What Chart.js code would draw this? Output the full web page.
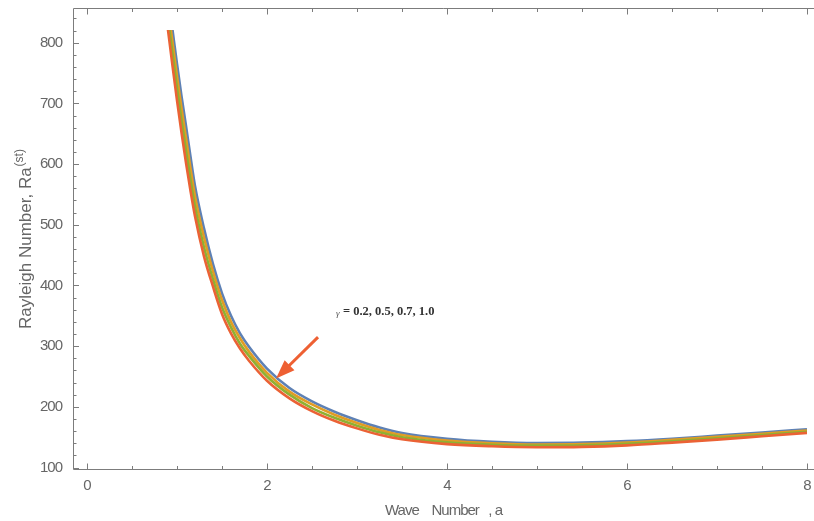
<!DOCTYPE html>
<html><head><meta charset="utf-8">
<script src="https://cdn.jsdelivr.net/npm/chart.js@4.4.0/dist/chart.umd.min.js"></script>
<style>html,body{margin:0;padding:0;background:#fff;overflow:hidden;}#wrap{width:814px;height:521px;position:relative;}</style>
</head><body><div id="wrap"><canvas id="c"></canvas></div>
<script>
// Wave number a (x values)
const waveNumberA = [0.85, 0.9, 0.95, 1.0, 1.05, 1.1, 1.15, 1.2, 1.3, 1.4, 1.5, 1.6, 1.7, 1.8, 2.0, 2.25, 2.5, 2.75, 3.0, 3.25, 3.5, 4.0, 4.5, 5.0, 5.5, 6.0, 6.5, 7.0, 7.5, 8.0];
// Rayleigh number Ra^(st) for each gamma
const raGamma02 = [930, 875, 821, 765, 712, 663, 612, 564, 494, 435, 387, 350, 321, 299, 263, 231, 209, 192, 178, 166, 157, 147.5, 142.5, 140.5, 141, 143.5, 147.5, 152.5, 157.5, 163];
const raGamma05 = [913, 857, 801, 745, 692, 643, 593, 547, 479, 423, 376, 340, 313, 291, 256, 225, 204, 187, 173.5, 162, 153.5, 144.5, 140, 138, 138.5, 141, 145.5, 150.5, 155.5, 161];
const raGamma07 = [897, 839, 782, 725, 672, 622, 574, 530, 463, 410, 364, 331, 304, 284, 250, 220, 198, 182, 169, 158, 150, 141.5, 137.5, 136, 136.5, 139, 143, 148, 153.5, 159];
const raGamma10 = [880, 821, 762, 705, 652, 602, 556, 514, 448, 398, 353, 321, 296, 276, 243, 214, 193, 177, 164.5, 154, 146.5, 138.5, 135, 133.5, 134, 136.5, 141, 146, 151.5, 157];
const seriesLabels = ['γ = 0.2', 'γ = 0.5', 'γ = 0.7', 'γ = 1.0'];
// Ticks
const xTickValues = [0, 2, 4, 6, 8];
const yTickValues = [100, 200, 300, 400, 500, 600, 700, 800];
const xMinorTicks = [0.5, 1, 1.5, 2.5, 3, 3.5, 4.5, 5, 5.5, 6.5, 7, 7.5];
const yMinorTicks = [120, 140, 160, 180, 220, 240, 260, 280, 320, 340, 360, 380, 420, 440, 460, 480, 520, 540, 560, 580, 620, 640, 660, 680, 720, 740, 760, 780, 820, 840];
// Texts
const annotationText = '= 0.2, 0.5, 0.7, 1.0';
const yTitleMain = 'Rayleigh Number, Ra';
const yTitleSup = '(st)';
const xTitle = 'Wave    Number   , a';

const TXT = '#666666';
const FRAME = '#7c7c7c';
const FONT = "'Liberation Sans', 'DejaVu Sans', sans-serif";

function pts(vals){ return waveNumberA.map((a,i)=>({x:a, y:vals[i]})); }
const colors = ['#5E81B5', '#E19C24', '#8FB032', '#EB6235'];
const seriesVals = [raGamma02, raGamma05, raGamma07, raGamma10];
const datasets = seriesVals.map((v,i)=>({
  label: seriesLabels[i],
  data: pts(v),
  borderColor: colors[i],
  borderWidth: 2.6,
  pointRadius: 0,
  fill: false,
  cubicInterpolationMode: 'monotone',
  order: 4 - i,
  clip: {left: 3, top: -22, right: 3, bottom: 3}
}));

const framePlugin = {
  id: 'frame',
  beforeDraw(chart){ chart.ctx.letterSpacing = '-1px'; },
  beforeDatasetsDraw(chart){
    const {ctx, chartArea:{left,right,top,bottom}, scales:{x,y}} = chart;
    ctx.save();
    ctx.letterSpacing = '0px';
    ctx.strokeStyle = FRAME; ctx.lineWidth = 1;
    ctx.beginPath();
    ctx.moveTo(right, top+0.5); ctx.lineTo(left+0.5, top+0.5); ctx.lineTo(left+0.5, bottom-0.5); ctx.lineTo(right, bottom-0.5);
    ctx.stroke();
    ctx.beginPath();
    const xt = (v, len) => { const p = Math.round(x.getPixelForValue(v)) + 0.5; ctx.moveTo(p, bottom); ctx.lineTo(p, bottom - len); ctx.moveTo(p, top); ctx.lineTo(p, top + len); };
    const yt = (v, len) => { const p = Math.round(y.getPixelForValue(v)) + 0.5; if (p < top || p > bottom) return; ctx.moveTo(left, p); ctx.lineTo(left + len, p); };
    xTickValues.forEach(v => xt(v, 6.5));
    xMinorTicks.forEach(v => xt(v, 4));
    yTickValues.forEach(v => yt(v, 6));
    yMinorTicks.forEach(v => yt(v, 3.5));
    ctx.stroke();
    // y-axis title with superscript
    ctx.fillStyle = TXT;
    ctx.font = '17px ' + FONT; const w1 = ctx.measureText(yTitleMain).width;
    ctx.font = '12px ' + FONT; const w2 = ctx.measureText(yTitleSup).width;
    const total = w1 + 1 + w2;
    ctx.translate(30.5, (top + bottom) / 2);
    ctx.rotate(-Math.PI / 2);
    ctx.textBaseline = 'alphabetic'; ctx.textAlign = 'left';
    ctx.font = '17px ' + FONT; ctx.fillText(yTitleMain, -total / 2, 0);
    ctx.font = '12px ' + FONT; ctx.fillText(yTitleSup, -total / 2 + w1 + 1, -7.5);
    ctx.restore();
  },
  afterDatasetsDraw(chart){
    const {ctx, scales:{x,y}} = chart;
    ctx.save();
    ctx.letterSpacing = '0px';
    // arrow
    const x0 = x.getPixelForValue(2.567), y0 = y.getPixelForValue(314.8);
    const x1 = x.getPixelForValue(2.1), y1 = y.getPixelForValue(246.7);
    const ang = Math.atan2(y1 - y0, x1 - x0);
    const hl = 19, hw = 7;
    const bx = x1 - hl*Math.cos(ang), by = y1 - hl*Math.sin(ang);
    ctx.strokeStyle = '#EE6033'; ctx.fillStyle = '#EE6033'; ctx.lineWidth = 3;
    ctx.beginPath(); ctx.moveTo(x0, y0); ctx.lineTo(bx + 4*Math.cos(ang), by + 4*Math.sin(ang)); ctx.stroke();
    ctx.beginPath();
    ctx.moveTo(x1, y1);
    ctx.lineTo(bx + hw*Math.sin(ang), by - hw*Math.cos(ang));
    ctx.lineTo(bx - hw*Math.sin(ang), by + hw*Math.cos(ang));
    ctx.closePath(); ctx.fill();
    // annotation label
    const tx = x.getPixelForValue(2.844), ty = y.getPixelForValue(351);
    const gx = x.getPixelForValue(2.767);
    ctx.textBaseline = 'alphabetic'; ctx.textAlign = 'left';
    ctx.fillStyle = '#555';
    ctx.font = "italic 9px 'Liberation Serif', 'DejaVu Serif', serif";
    ctx.fillText('γ', gx, ty + 1);
    ctx.fillStyle = '#333';
    ctx.font = "bold 12.5px 'Liberation Serif', 'DejaVu Serif', serif";
    ctx.fillText(annotationText, tx, ty);
    ctx.restore();
  }
};

new Chart(document.getElementById('c'), {
  type: 'line',
  data: { datasets },
  options: {
    responsive: true, maintainAspectRatio: false, animation: false, devicePixelRatio: 1,
    layout: { padding: { top: 8, right: 0, left: 0, bottom: 0 } },
    plugins: { legend: { display: false }, tooltip: { enabled: false } },
    scales: {
      x: {
        type: 'linear', min: -0.1556, max: 8.078,
        grid: { display: false, drawTicks: false }, border: { display: false },
        ticks: { padding: 7, autoSkip: false, color: TXT, font: { family: FONT, size: 15 }, callback: v => String(v) },
        afterBuildTicks: s => { s.ticks = xTickValues.map(v => ({ value: v })); },
        afterFit: s => { s.height = 51; s.paddingLeft = 0; s.paddingRight = 0; },
        title: { display: true, text: xTitle, color: TXT, font: { family: FONT, size: 15 }, padding: { top: 0, bottom: 1 } }
      },
      y: {
        type: 'linear', min: 95.9, max: 857.2,
        grid: { display: false, drawTicks: false }, border: { display: false },
        ticks: { padding: 11, autoSkip: false, color: TXT, font: { family: FONT, size: 15 }, callback: v => String(v) },
        afterBuildTicks: s => { s.ticks = yTickValues.map(v => ({ value: v })); },
        afterFit: s => { s.width = 73; s.paddingTop = 0; s.paddingBottom = 0; },
        title: { display: false, text: yTitleMain + yTitleSup }
      }
    }
  },
  plugins: [framePlugin]
});
</script></body></html>
